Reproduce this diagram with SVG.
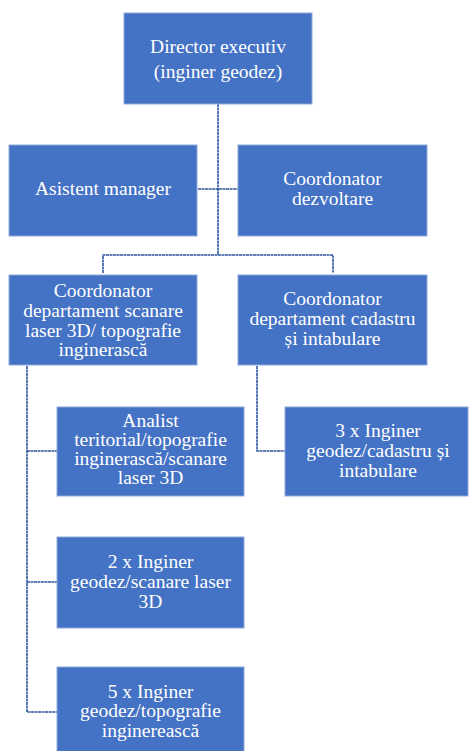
<svg xmlns="http://www.w3.org/2000/svg" width="469" height="751" viewBox="0 0 469 751">
<style>
.box{fill:#4472C4;stroke:#8EA9DB;stroke-width:1}
.t{font-family:'Liberation Serif','Times New Roman','DejaVu Serif',serif;font-size:19.5px;fill:#FFFFFF;text-anchor:middle}
.c{fill:none;stroke:#2F56A0;stroke-width:1.6;stroke-dasharray:3 0.5}
</style>
<rect width="469" height="751" fill="#FFFFFF"/>
<g id="connectors">
<path class="c" d="M218,104 V255"/>
<path class="c" d="M198,189 H238"/>
<path class="c" d="M103,273 V255 H333 V273"/>
<path class="c" d="M27,366 V712 H57"/>
<path class="c" d="M27,451 H57"/>
<path class="c" d="M27,582 H57"/>
<path class="c" d="M257,366 V451 H285"/>
</g>
<g id="director">
<rect class="box" x="124" y="13" width="188" height="91"/>
<text class="t" x="218" y="53">Director executiv</text>
<text class="t" x="218" y="78">(inginer geodez)</text>
</g>
<g id="asistent">
<rect class="box" x="9" y="145" width="188" height="91"/>
<text class="t" x="103" y="195">Asistent manager</text>
</g>
<g id="dezvoltare">
<rect class="box" x="238" y="145" width="189" height="91"/>
<text class="t" x="332.5" y="185">Coordonator</text>
<text class="t" x="332.5" y="205">dezvoltare</text>
</g>
<g id="coord-scanare">
<rect class="box" x="9" y="275" width="188" height="90"/>
<text class="t" x="103" y="297">Coordonator</text>
<text class="t" x="103" y="317">departament scanare</text>
<text class="t" x="103" y="337">laser 3D/ topografie</text>
<text class="t" x="103" y="356">inginerască</text>
</g>
<g id="coord-cadastru">
<rect class="box" x="238" y="275" width="189" height="90"/>
<text class="t" x="332.5" y="305">Coordonator</text>
<text class="t" x="332.5" y="325">departament cadastru</text>
<text class="t" x="332.5" y="345">și intabulare</text>
</g>
<g id="analist">
<rect class="box" x="57" y="407" width="187" height="89"/>
<text class="t" x="150.5" y="427">Analist</text>
<text class="t" x="150.5" y="446">teritorial/topografie</text>
<text class="t" x="150.5" y="465">inginerască/scanare</text>
<text class="t" x="150.5" y="484">laser 3D</text>
</g>
<g id="ingineri-cadastru">
<rect class="box" x="285" y="407" width="183" height="89"/>
<text class="t" x="378" y="437">3 x Inginer</text>
<text class="t" x="378" y="457">geodez/cadastru și</text>
<text class="t" x="378" y="477">intabulare</text>
</g>
<g id="ingineri-scanare">
<rect class="box" x="57" y="537" width="187" height="91"/>
<text class="t" x="150.5" y="568">2 x Inginer</text>
<text class="t" x="150.5" y="588">geodez/scanare laser</text>
<text class="t" x="150.5" y="608">3D</text>
</g>
<g id="ingineri-topografie">
<rect class="box" x="57" y="667" width="187" height="90"/>
<text class="t" x="150.5" y="698">5 x Inginer</text>
<text class="t" x="150.5" y="717">geodez/topografie</text>
<text class="t" x="150.5" y="737">inginerească</text>
</g>
</svg>
